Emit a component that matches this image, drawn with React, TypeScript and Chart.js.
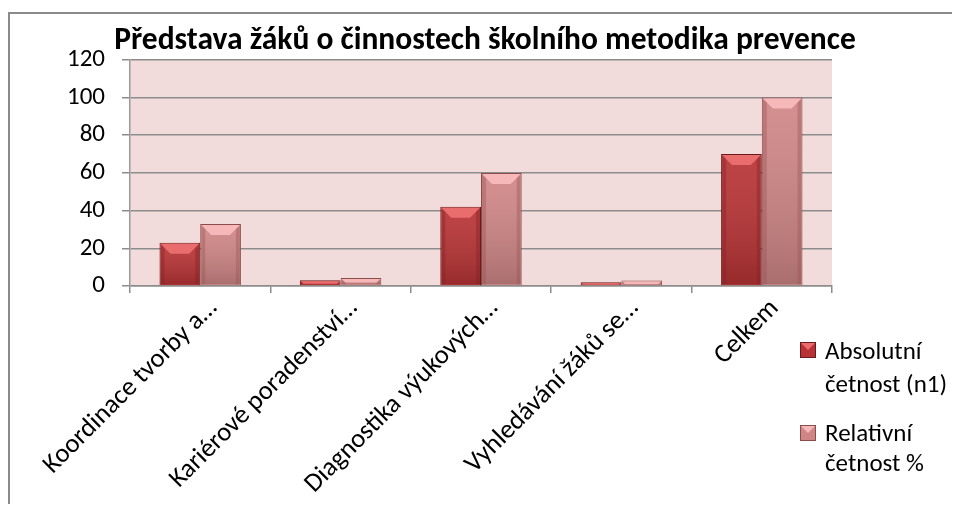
import React, { useEffect, useRef } from "react";
import { Chart, registerables } from "chart.js";

Chart.register(...registerables);

const titleText = "Představa žáků o činnostech školního metodika prevence";
const categories = [
  "Koordinace tvorby a…",
  "Kariérové poradenství…",
  "Diagnostika výukových…",
  "Vyhledávání žáků se…",
  "Celkem",
];
const absoluteValues = [23, 3, 42, 2, 70];
const relativeValues = [32.9, 4.3, 60, 2.9, 100];
const seriesNames = [["Absolutní", "četnost (n1)"], ["Relativní", "četnost %"]];
const yMin = 0;
const yMax = 120;
const yStep = 20;

const FONT = "Carlito, Lato, 'Open Sans', sans-serif";

const palette = [
  { base: "#b83335", dark: "#84202266", hi: "#ea6d6d", border: "#6a1a1c" },
  { base: "#d08686", dark: "#9c565666", hi: "#f6b8b8", border: "#8c4c4c" },
];

const bgPlugin = {
  id: "plotBg",
  beforeDraw(chart: any) {
    const { ctx, chartArea } = chart;
    if (!chartArea) return;
    ctx.save();
    ctx.fillStyle = "#f2dcdb";
    ctx.fillRect(chartArea.left, chartArea.top, chartArea.right - chartArea.left, chartArea.bottom - chartArea.top);
    ctx.restore();
  },
};

const bevelPlugin = {
  id: "bevel",
  afterDatasetsDraw(chart: any) {
    const ctx = chart.ctx;
    chart.data.datasets.forEach((ds: any, di: number) => {
      const meta = chart.getDatasetMeta(di);
      const p = palette[di];
      meta.data.forEach((bar: any) => {
        const { x, y, base, width } = bar.getProps(["x", "y", "base", "width"], true);
        const l = x - width / 2;
        const r = x + width / 2;
        const h = base - y;
        if (h <= 0) return;
        const bev = Math.min(10, h / 2, width / 4);
        ctx.save();
        const g = ctx.createLinearGradient(0, y, 0, base);
        g.addColorStop(0, "rgba(255,255,255,0.08)");
        g.addColorStop(1, "rgba(0,0,0,0.18)");
        ctx.fillStyle = g;
        ctx.fillRect(l + 1, y + 1, width - 2, h - 2);
        const sw = Math.min(4, width / 6);
        ctx.fillStyle = p.dark;
        ctx.fillRect(l + 1, y + 1, sw, h - 2);
        ctx.fillRect(r - 1 - sw, y + 1, sw, h - 2);
        ctx.beginPath();
        ctx.moveTo(l + 1, y + 1);
        ctx.lineTo(r - 1, y + 1);
        ctx.lineTo(r - 1 - bev, y + 1 + bev);
        ctx.lineTo(l + 1 + bev, y + 1 + bev);
        ctx.closePath();
        ctx.fillStyle = p.hi;
        ctx.fill();
        ctx.restore();
      });
    });
  },
};

const legendPlugin = {
  id: "customLegend",
  afterDraw(chart: any) {
    const { ctx, chartArea } = chart;
    if (!chartArea) return;
    const mx = chartArea.right - 32;
    const tx = chartArea.right - 7;
    const items = [
      { m: chartArea.bottom + 56, t1: chartArea.bottom + 67, t2: chartArea.bottom + 100 },
      { m: chartArea.bottom + 139, t1: chartArea.bottom + 149, t2: chartArea.bottom + 179 },
    ];
    ctx.save();
    ctx.font = `25px ${FONT}`;
    ctx.textBaseline = "middle";
    seriesNames.forEach((lines, i) => {
      const p = palette[i];
      const it = items[i];
      const s = 16;
      ctx.fillStyle = p.base;
      ctx.fillRect(mx, it.m, s, s);
      ctx.fillStyle = p.hi;
      ctx.beginPath();
      ctx.moveTo(mx, it.m);
      ctx.lineTo(mx + s, it.m);
      ctx.lineTo(mx + s / 2, it.m + s / 2);
      ctx.closePath();
      ctx.fill();
      ctx.strokeStyle = p.border;
      ctx.lineWidth = 1;
      ctx.strokeRect(mx + 0.5, it.m + 0.5, s - 1, s - 1);
      ctx.fillStyle = "#000";
      ctx.fillText(lines[0], tx, it.t1);
      ctx.fillText(lines[1], tx, it.t2);
    });
    ctx.restore();
  },
};

export default function App() {
  const ref = useRef<HTMLCanvasElement | null>(null);
  useEffect(() => {
    document.body.style.overflow = "hidden";
    if (!ref.current) return;
    const chart = new Chart(ref.current, {
      type: "bar",
      data: {
        labels: categories,
        datasets: [
          {
            label: seriesNames[0].join(" "),
            data: absoluteValues,
            backgroundColor: palette[0].base,
            borderColor: palette[0].border,
            borderWidth: 1,
            categoryPercentage: 0.58,
            barPercentage: 1,
          },
          {
            label: seriesNames[1].join(" "),
            data: relativeValues,
            backgroundColor: palette[1].base,
            borderColor: palette[1].border,
            borderWidth: 1,
            categoryPercentage: 0.58,
            barPercentage: 1,
          },
        ],
      },
      options: {
        animation: false,
        responsive: false,
        layout: { padding: 0 },
        plugins: {
          legend: { display: false },
          tooltip: { enabled: false },
          title: {
            display: true,
            text: titleText,
            color: "#000",
            font: { family: FONT, size: 31.5, weight: "bold", lineHeight: 1.2 },
            padding: { top: 8, bottom: 0 },
          },
        },
        scales: {
          x: {
            grid: {
              display: true,
              drawOnChartArea: false,
              drawTicks: true,
              tickLength: 7,
              color: "#8c8c8c",
              lineWidth: 1.5,
              offset: true,
            },
            border: { display: true, color: "#8c8c8c", width: 1.5 },
            ticks: {
              color: "#000",
              font: { family: FONT, size: 26.5 },
              maxRotation: 45,
              minRotation: 45,
              autoSkip: false,
              padding: 0,
              labelOffset: 13,
            },
            afterFit(scale: any) {
              scale.height = 218;
            },
          },
          y: {
            min: yMin,
            max: yMax,
            ticks: {
              stepSize: yStep,
              color: "#000",
              font: { family: FONT, size: 25 },
              padding: 17,
            },
            grid: {
              color: "#8c8c8c",
              lineWidth: 1.5,
              tickLength: 8,
            },
            border: { display: true, color: "#9a9a9a", width: 1.5 },
            afterFit(scale: any) {
              scale.width = 120;
            },
          },
          legendSpace: {
            type: "linear",
            position: "right",
            display: true,
            grid: { display: false },
            border: { display: false },
            ticks: { display: false },
            afterFit(scale: any) {
              scale.width = 128;
            },
          },
        },
      },
      plugins: [bgPlugin, bevelPlugin, legendPlugin],
    });
    return () => chart.destroy();
  }, []);

  return (
    <div
      style={{
        marginTop: 4,
        width: 950,
        height: 490,
        borderLeft: "2px solid #8a8a8a",
        borderTop: "2px solid #8a8a8a",
        background: "#fff",
      }}
    >
      <canvas ref={ref} width={950} height={490} style={{ display: "block" }} />
    </div>
  );
}
